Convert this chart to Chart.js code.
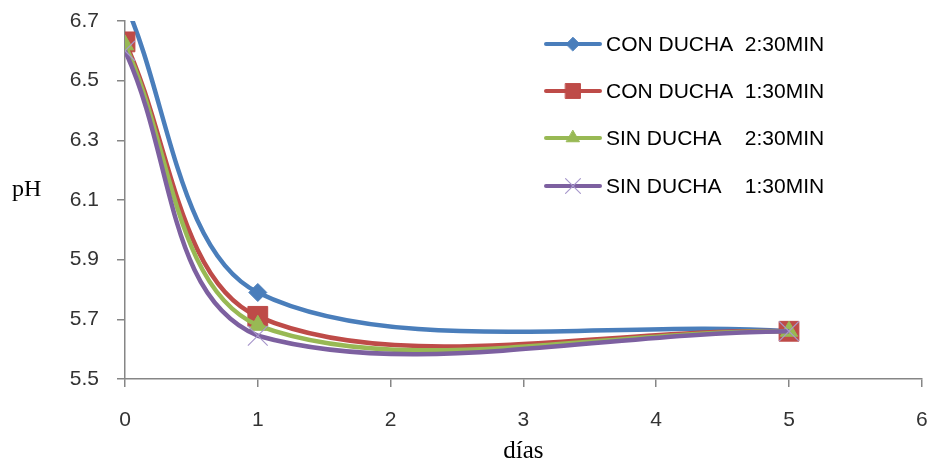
<!DOCTYPE html>
<html>
<head>
<meta charset="utf-8">
<script src="https://cdn.jsdelivr.net/npm/chart.js@4"></script>
<style>
  html, body { margin: 0; padding: 0; background: #fff; overflow: hidden; }
  /* a little wider than the window: the scale keeps a right margin for the last label */
  #wrap { position: relative; width: 937px; height: 466px; }
</style>
</head>
<body>
<div id="wrap"><canvas id="phChart"></canvas></div>
<script>
// Data
const dias = [0, 1, 5];
const conDucha230 = [6.76, 5.79, 5.66];
const conDucha130 = [6.63, 5.71, 5.66];
const sinDucha230 = [6.62, 5.68, 5.66];
const sinDucha130 = [6.60, 5.645, 5.66];
const seriesLabels = ['CON DUCHA  2:30MIN', 'CON DUCHA  1:30MIN', 'SIN DUCHA    2:30MIN', 'SIN DUCHA    1:30MIN'];
const xTicks = [0, 1, 2, 3, 4, 5, 6];
const yTicks = [5.5, 5.7, 5.9, 6.1, 6.3, 6.5, 6.7];

const colors = {
  blue: '#4a7ebb',
  red: '#be4b48',
  green: '#98b954',
  purple: '#7d60a0',
  cross: '#a898cc',
  axis: '#868686',
  text: '#333333'
};

const toPoints = vals => vals.map((v, i) => ({ x: dias[i], y: v }));

const series = [
  { data: conDucha230, color: colors.blue, style: 'rectRot', radius: 9, marker: colors.blue, mw: 1, tension: 0.32 },
  { data: conDucha130, color: colors.red, style: 'rect', radius: 14, marker: colors.red, mw: 1, tension: 0.33 },
  { data: sinDucha230, color: colors.green, style: 'triangle', radius: 10, marker: colors.green, mw: 1, tension: 0.34 },
  { data: sinDucha130, color: colors.purple, style: 'crossRot', radius: 14, marker: colors.cross, mw: 1.2, tension: 0.37 }
];

// Legend drawn inside the plot area, top right (like the original)
const insideLegend = {
  id: 'insideLegend',
  afterDraw(chart) {
    const ctx = chart.ctx;
    const x0 = 546, x1 = 600, tx = 606;
    const rows = [44, 91, 138, 186];
    ctx.save();
    chart.data.datasets.forEach((ds, i) => {
      const y = rows[i];
      ctx.strokeStyle = ds.borderColor;
      ctx.lineWidth = 4;
      ctx.lineCap = 'round';
      ctx.beginPath();
      ctx.moveTo(x0, y);
      ctx.lineTo(x1, y);
      ctx.stroke();
      ctx.fillStyle = ds.pointBackgroundColor;
      ctx.strokeStyle = ds.pointBorderColor;
      ctx.lineWidth = ds.pointBorderWidth;
      Chart.helpers.drawPoint(ctx, {
        pointStyle: ds.pointStyle,
        radius: ds.legendRadius,
        borderWidth: ds.pointBorderWidth,
        rotation: 0
      }, (x0 + x1) / 2, y);
      ctx.fillStyle = '#000';
      ctx.font = '21px "Liberation Sans", Arial, sans-serif';
      ctx.textBaseline = 'middle';
      ctx.textAlign = 'left';
      ctx.fillText(ds.label, tx, y + 1);
    });
    // unrotated y title
    ctx.font = '24px "Liberation Serif", "Times New Roman", serif';
    ctx.fillStyle = '#000';
    ctx.textBaseline = 'middle';
    ctx.textAlign = 'left';
    ctx.fillText('pH', 12, 190);
    ctx.restore();
  }
};

const ctx = document.getElementById('phChart').getContext('2d');
const phChart = new Chart(ctx, {
  type: 'line',
  data: {
    datasets: series.map((s, i) => ({
      label: seriesLabels[i],
      data: toPoints(s.data),
      borderColor: s.color,
      backgroundColor: s.marker,
      borderWidth: 4.5,
      tension: s.tension,
      pointStyle: s.style,
      pointRadius: s.radius,
      legendRadius: s.radius * 0.75,
      pointBackgroundColor: s.marker,
      pointBorderColor: s.marker,
      pointBorderWidth: s.mw,
      order: 4 - i
    }))
  },
  options: {
    responsive: true,
    maintainAspectRatio: false,
    animation: false,
    layout: { padding: { top: 21, right: 0, left: 0, bottom: 0 } },
    scales: {
      x: {
        type: 'linear',
        min: 0,
        max: 6,
        afterBuildTicks: s => { s.ticks = xTicks.map(v => ({ value: v })); },
        afterFit: s => {
          s.height = 87;
          s.paddingLeft = 0; s.paddingRight = 0;
        },
        border: { color: colors.axis, width: 1.5 },
        grid: { drawOnChartArea: false, drawTicks: true, tickLength: 8, color: colors.axis, lineWidth: 1.5 },
        ticks: {
          color: colors.text,
          padding: 21,
          font: { family: '"Liberation Sans", Arial, sans-serif', size: 21 },
          callback: v => String(v)
        },
        title: {
          display: true,
          text: 'días',
          color: '#000',
          font: { family: '"Liberation Serif", "Times New Roman", serif', size: 25 },
          padding: { top: 0, bottom: 0 }
        }
      },
      y: {
        min: 5.5,
        max: 6.7,
        afterBuildTicks: s => { s.ticks = yTicks.map(v => ({ value: v })); },
        afterFit: s => {
          s.width = 125;
          s.paddingTop = 0; s.paddingBottom = 0;
        },
        border: { color: colors.axis, width: 1.5 },
        grid: { drawOnChartArea: false, drawTicks: true, tickLength: 8, color: colors.axis, lineWidth: 1.5 },
        ticks: {
          color: colors.text,
          padding: 18,
          font: { family: '"Liberation Sans", Arial, sans-serif', size: 21 },
          callback: v => Number(v).toFixed(1)
        }
      }
    },
    plugins: {
      legend: { display: false },
      tooltip: { enabled: false }
    }
  },
  plugins: [insideLegend]
});
</script>
</body>
</html>
